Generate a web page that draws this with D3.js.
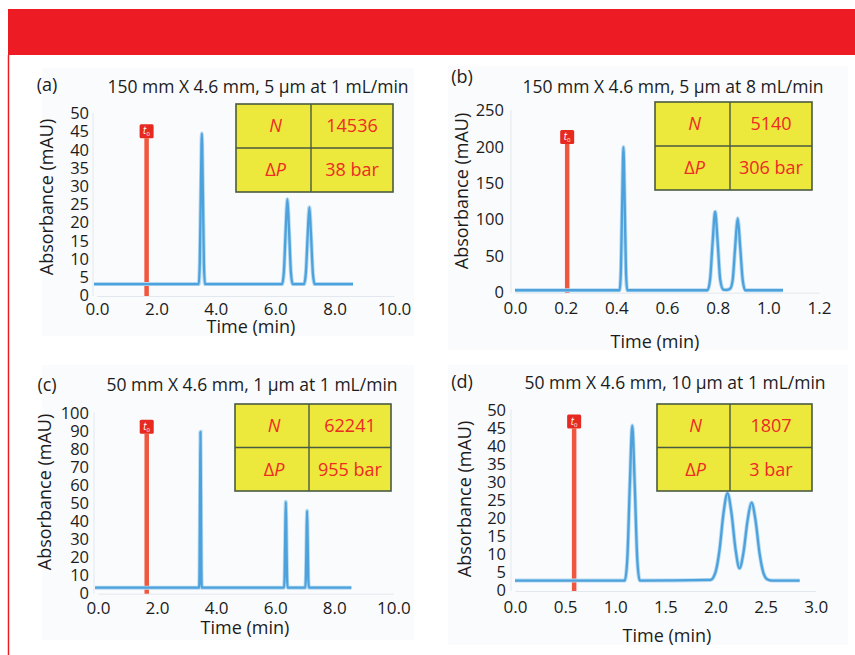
<!DOCTYPE html>
<html lang="en">
<head>
    <meta charset="UTF-8">
    <script src="https://d3js.org/d3.v7.min.js"></script>
    <title>Chromatograms</title>
    <style>
        body { margin: 0; background: #fff; }
        svg text { font-family: "Open Sans", "Noto Sans", sans-serif; }
    </style>
</head>
<body>
    <div id="chart"></div>
    <script>
        // data
        const panelTags = ["(a)", "(b)", "(c)", "(d)"];
        const panelTitles = [
            "150 mm X 4.6 mm, 5 µm at 1 mL/min",
            "150 mm X 4.6 mm, 5 µm at 8 mL/min",
            "50 mm X 4.6 mm, 1 µm at 1 mL/min",
            "50 mm X 4.6 mm, 10 µm at 1 mL/min"
        ];
        const plateCounts = ["14536", "5140", "62241", "1807"];
        const pressureDrops = ["38 bar", "306 bar", "955 bar", "3 bar"];
        const t0Times = [1.67, 0.206, 1.65, 0.59];

        const xTicksA = [0, 2, 4, 6, 8, 10];
        const xTicksB = [0, 0.2, 0.4, 0.6, 0.8, 1.0, 1.2];
        const xTicksC = [0, 2, 4, 6, 8, 10];
        const xTicksD = [0, 0.5, 1.0, 1.5, 2.0, 2.5, 3.0];
        const yTicksA = [0, 5, 10, 15, 20, 25, 30, 35, 40, 45, 50];
        const yTicksB = [0, 50, 100, 150, 200, 250];
        const yTicksC = [0, 10, 20, 30, 40, 50, 60, 70, 80, 90, 100];
        const yTicksD = [0, 5, 10, 15, 20, 25, 30, 35, 40, 45, 50];

        // [time (min), absorbance (mAU)]
        const traceA = [
            [-0.1, 3.0], [3.425, 3.0], [3.46, 8.6], [3.495, 28.1], [3.53, 44.4], [3.565, 28.1], [3.60, 8.6], [3.635, 3.0],
            [6.23, 3.0], [6.29, 6.1], [6.35, 17.1], [6.41, 26.3], [6.47, 17.1], [6.53, 6.1], [6.59, 3.0],
            [6.97, 3.0], [7.03, 5.8], [7.09, 15.8], [7.15, 24.1], [7.21, 15.8], [7.27, 5.8], [7.33, 3.0],
            [8.62, 3.0]
        ];
        const traceB = [
            [0, 2], [0.413, 2], [0.418, 28.6], [0.423, 121.6], [0.428, 199], [0.433, 121.6], [0.438, 28.6], [0.443, 2],
            [0.76, 2], [0.77, 16.6], [0.78, 67.6], [0.79, 110], [0.80, 67.6], [0.81, 16.6], [0.822, 3],
            [0.835, 2.5], [0.849, 4], [0.859, 15.4], [0.869, 61.1], [0.879, 101], [0.889, 61.1], [0.899, 15.4], [0.909, 2],
            [1.058, 2]
        ];
        const traceC = [
            [-0.1, 2.8], [3.425, 2.8], [3.44, 14.5], [3.455, 55.2], [3.47, 89.2], [3.485, 55.2], [3.50, 14.5], [3.515, 2.8],
            [6.30, 2.8], [6.32, 9.2], [6.34, 31.7], [6.36, 50.4], [6.38, 31.7], [6.40, 9.2], [6.42, 2.8],
            [7.02, 2.8], [7.04, 8.6], [7.06, 28.7], [7.08, 45.4], [7.10, 28.7], [7.12, 8.6], [7.14, 2.8],
            [8.58, 2.8]
        ];
        const traceD = [
            [0, 2.6], [1.095, 2.6], [1.12, 8.4], [1.145, 28.6], [1.17, 45.5], [1.195, 28.6], [1.22, 8.4], [1.245, 2.6],
            [1.95, 2.8], [2.0, 4.9], [2.04, 11.0], [2.08, 21.2], [2.12, 26.8], [2.16, 21.2], [2.20, 11.3], [2.24, 6.0],
            [2.28, 10.5], [2.32, 19.2], [2.36, 24.2], [2.40, 19.2], [2.44, 10.1], [2.48, 4.6], [2.52, 2.9], [2.57, 2.6],
            [2.84, 2.6]
        ];

        const traces = [traceA, traceB, traceC, traceD];
        const xTicks = [xTicksA, xTicksB, xTicksC, xTicksD];
        const yTicks = [yTicksA, yTicksB, yTicksC, yTicksD];

        // layout of each panel (pixels)
        const layout = [
            { bg: [42, 68, 372, 268], xr: [97, 394], yr: [295, 113], tag: [47, 85], title: [258, 87], ylab: [47, 197], xlab: [251, 327], xTickY: 309, tickRight: 89, table: [236, 104, 157, 88, 75], t0At: 45 },
            { bg: [448, 66, 400, 284], xr: [515, 819], yr: [291.7, 110], tag: [462, 77], title: [673, 87], ylab: [462, 191], xlab: [655, 342], xTickY: 308, tickRight: 504, table: [655, 102, 157, 88, 75], t0At: 213 },
            { bg: [42, 365, 372, 275], xr: [98, 393.3], yr: [592.7, 412.3], tag: [47, 385], title: [252, 385], ylab: [45, 492], xlab: [245, 628], xTickY: 608, tickRight: 89, table: [235, 404, 156, 87, 74], t0At: 92 },
            { bg: [448, 365, 400, 280], xr: [515, 815.7], yr: [590, 409.3], tag: [462, 382], title: [675, 383], ylab: [465, 499], xlab: [667, 636], xTickY: 607, tickRight: 506, table: [657, 404, 155, 87, 73], t0At: 46.6 }
        ];

        const w = 855, h = 655;
        const red = "#ed1c24";
        const ink = "#1c1c1c";

        const svg = d3.select("#chart").append("svg")
            .attr("width", w)
            .attr("height", h);

        // header band and left rule
        svg.append("rect").attr("x", 8).attr("y", 9).attr("width", w - 8).attr("height", 46).attr("fill", red);
        svg.append("line").attr("x1", 8.5).attr("x2", 8.5).attr("y1", 55).attr("y2", h)
            .attr("stroke", red).attr("stroke-width", 1.5);

        layout.forEach((L, i) => {
            const g = svg.append("g");
            const xTk = xTicks[i], yTk = yTicks[i];

            const xScale = d3.scaleLinear()
                .domain([xTk[0], xTk[xTk.length - 1]])
                .range(L.xr);
            const yScale = d3.scaleLinear()
                .domain([yTk[0], yTk[yTk.length - 1]])
                .range(L.yr);

            g.append("rect")
                .attr("x", L.bg[0]).attr("y", L.bg[1])
                .attr("width", L.bg[2]).attr("height", L.bg[3])
                .attr("fill", "#fafbfc");

            //axes
            const xAxis = d3.axisBottom(xScale).tickValues(xTk).tickSize(0).tickFormat(d3.format(".1f"));
            const yAxis = d3.axisLeft(yScale).tickValues(yTk).tickSize(0).tickPadding(0);

            const gx = g.append("g")
                .attr("transform", "translate(0," + (L.yr[0] + 1) + ")")
                .call(xAxis);
            gx.select(".domain").attr("stroke", "#e2e8ee");
            gx.selectAll("text")
                .attr("y", L.xTickY - L.yr[0] - 1)
                .attr("dy", "0.35em")
                .attr("fill", ink)
                .style("font-size", "17px");

            const gy = g.append("g")
                .attr("transform", "translate(" + L.tickRight + ",0)")
                .call(yAxis);
            gy.select(".domain").remove();
            gy.selectAll("text")
                .attr("dy", "0.35em")
                .attr("fill", ink)
                .style("font-size", "16.5px");
            g.append("line")
                .attr("x1", L.xr[0] - 4).attr("x2", L.xr[0] - 4)
                .attr("y1", L.yr[1]).attr("y2", L.yr[0] + 1)
                .attr("stroke", "#e2e8ee");

            // t0 marker
            const tx = xScale(t0Times[i]);
            const ty = yScale(L.t0At);
            g.append("line")
                .attr("x1", tx).attr("x2", tx)
                .attr("y1", ty + 7).attr("y2", L.yr[0] + 1)
                .attr("stroke", "#f0573f").attr("stroke-width", 4.5);
            g.append("rect")
                .attr("x", tx - 7).attr("y", ty - 7)
                .attr("width", 14).attr("height", 14)
                .attr("rx", 1.5)
                .attr("fill", "#e62a20");
            const t0 = g.append("text")
                .attr("x", tx - 3.5).attr("y", ty + 3)
                .attr("fill", "#fff")
                .style("font-size", "10px")
                .style("font-style", "italic");
            t0.append("tspan").text("t");
            t0.append("tspan").attr("dy", 2).style("font-size", "6px").style("font-style", "normal").text("0");

            // trace
            const line = d3.line()
                .x(d => xScale(d[0]))
                .y(d => yScale(d[1]))
                .curve(d3.curveMonotoneX);
            g.append("path")
                .datum(traces[i])
                .attr("d", line)
                .attr("fill", "none")
                .attr("stroke", "#b5d9f2")
                .attr("stroke-width", 4);
            g.append("path")
                .datum(traces[i])
                .attr("d", line)
                .attr("fill", "none")
                .attr("stroke", "#4da2dc")
                .attr("stroke-width", 2.3)
                .attr("stroke-linejoin", "round");

            // table
            const [tbx, tby, tbw, tbh, col] = L.table;
            const tb = g.append("g");
            tb.append("rect")
                .attr("x", tbx).attr("y", tby)
                .attr("width", tbw).attr("height", tbh)
                .attr("fill", "#ece83c")
                .attr("stroke", "#4a5a40").attr("stroke-width", 1.6);
            tb.append("line")
                .attr("x1", tbx + col).attr("x2", tbx + col)
                .attr("y1", tby).attr("y2", tby + tbh)
                .attr("stroke", "#4a5a40").attr("stroke-width", 1.4);
            tb.append("line")
                .attr("x1", tbx).attr("x2", tbx + tbw)
                .attr("y1", tby + tbh / 2).attr("y2", tby + tbh / 2)
                .attr("stroke", "#4a5a40").attr("stroke-width", 1.4);
            const cellText = (cx, cy) => tb.append("text")
                .attr("x", cx).attr("y", cy)
                .attr("dy", "0.35em")
                .attr("text-anchor", "middle")
                .attr("fill", "#ee2a24")
                .style("font-size", "18px");
            cellText(tbx + col / 2 + 2, tby + tbh / 4)
                .style("font-style", "italic").text("N");
            const dp = cellText(tbx + col / 2 + 2, tby + tbh * 3 / 4);
            dp.append("tspan").text("Δ");
            dp.append("tspan").style("font-style", "italic").text("P");
            cellText(tbx + col + (tbw - col) / 2, tby + tbh / 4).text(plateCounts[i]);
            cellText(tbx + col + (tbw - col) / 2, tby + tbh * 3 / 4).text(pressureDrops[i]);

            // texts
            g.append("text")
                .attr("x", L.tag[0]).attr("y", L.tag[1])
                .attr("dy", "0.35em")
                .attr("text-anchor", "middle")
                .attr("fill", ink)
                .style("font-size", "18px")
                .text(panelTags[i]);
            g.append("text")
                .attr("x", L.title[0]).attr("y", L.title[1])
                .attr("dy", "0.35em")
                .attr("text-anchor", "middle")
                .attr("fill", ink)
                .style("font-size", "17.5px")
                .text(panelTitles[i]);
            g.append("text")
                .attr("transform", "translate(" + L.ylab[0] + "," + L.ylab[1] + ") rotate(-90)")
                .attr("dy", "0.35em")
                .attr("text-anchor", "middle")
                .attr("fill", ink)
                .style("font-size", "18px")
                .text("Absorbance (mAU)");
            g.append("text")
                .attr("x", L.xlab[0]).attr("y", L.xlab[1])
                .attr("dy", "0.35em")
                .attr("text-anchor", "middle")
                .attr("fill", ink)
                .style("font-size", "18px")
                .text("Time (min)");
        });
    </script>
</body>
</html>
